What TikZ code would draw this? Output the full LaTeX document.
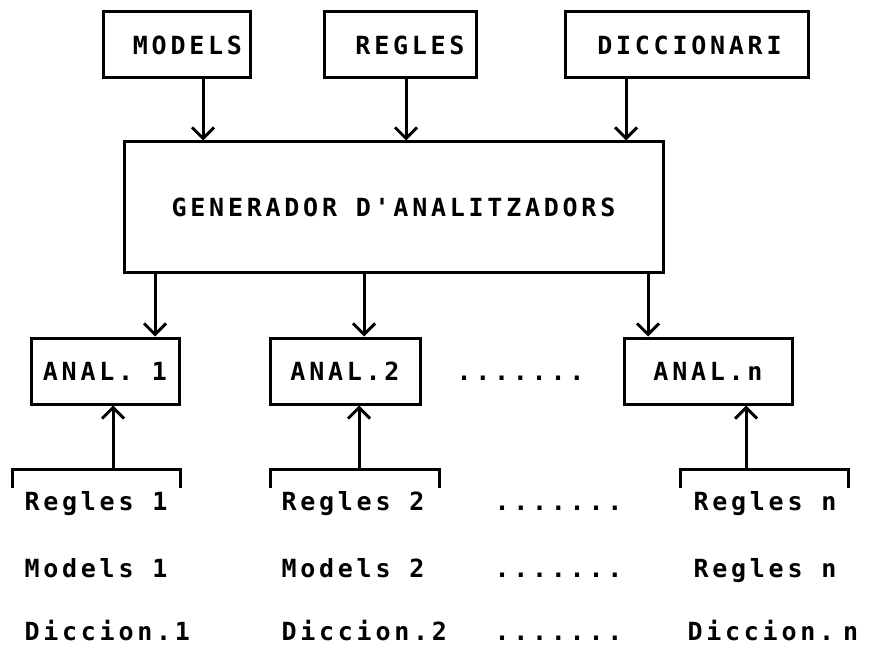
\documentclass[tikz,border=0pt]{standalone}
\usepackage{fontspec}
\newfontfamily\dotfont{DejaVu Sans Mono}[LetterSpace=15]
\usetikzlibrary{arrows.meta}
\newcommand\puntets{.......}
\begin{document}
\begin{tikzpicture}
  [x=1pt,y=-1pt,line width=3pt,
   every node/.style={font=\dotfont\bfseries\fontsize{25}{30}\selectfont},
   box/.style={draw,minimum height=66pt,inner sep=0pt},
   arr/.style={-{Straight Barb[length=11pt,width=22pt,line width=3pt]}},
   txt/.style={anchor=base west,inner sep=0pt}]
  \useasboundingbox (0,0) rectangle (876,647);
  % entrades
  \node[box,minimum width=147pt] (models) at (176.5,45) {\hspace*{22pt}MODELS};
  \node[box,minimum width=152pt] (regles) at (400,45) {\hspace*{20pt}REGLES};
  \node[box,minimum width=243pt] (dicc) at (686.5,45) {\hspace*{6pt}DICCIONARI};
  \node[box,minimum width=539pt,minimum height=131pt] (gen) at (393.5,207.5) {GENERADOR D'ANALITZADORS};
  % analitzadors
  \node[box,minimum width=148pt,minimum height=66pt] (an1) at (105,371) {ANAL. 1};
  \node[box,minimum width=150pt,minimum height=66pt] (an2) at (345,371) {ANAL.2};
  \node[box,minimum width=168pt,minimum height=66pt] (ann) at (708,371) {ANAL.n};
  \node[txt] (dots0) at (455,380) {\puntets};

  \foreach \from/\dx in {models/26.5,regles/6,dicc/-60.5}
    \draw[arr] ([xshift=\dx pt]\from.south) -- ([xshift=\dx pt]\from.south |- gen.north);
  \foreach \to/\dx in {an1/50,an2/19,ann/-60}
    \draw[arr] ([xshift=\dx pt]\to.north |- gen.south) -- ([xshift=\dx pt]\to.north);

  % claus
  \foreach \k/\to/\l/\r/\a in {k1/an1/12/180/113,k2/an2/270/439/359,kn/ann/680/848/746}
   {\coordinate (\k) at (\a,469);
    \draw (\l,488) |- (\r,469) -- (\r,488);
    \draw[arr] (\k) -- (\k |- \to.south);}

  % fitxers
  \foreach \nm/\x/\y/\t in {r1/23/510/Regles 1,m1/23/577/Models 1,d1/23/640/Diccion.1,
      r2/280/510/Regles 2,m2/280/577/Models 2,d2/280/640/Diccion.2,
      rd/493/510/\puntets,md/493/577/\puntets,dd/493/640/\puntets,
      rn/692/510/Regles n,mn/692/577/Regles n,dn/686/640/Diccion.\hspace{9pt}n}
    \node[txt] (\nm) at (\x,\y) {\t};
\end{tikzpicture}
\end{document}
